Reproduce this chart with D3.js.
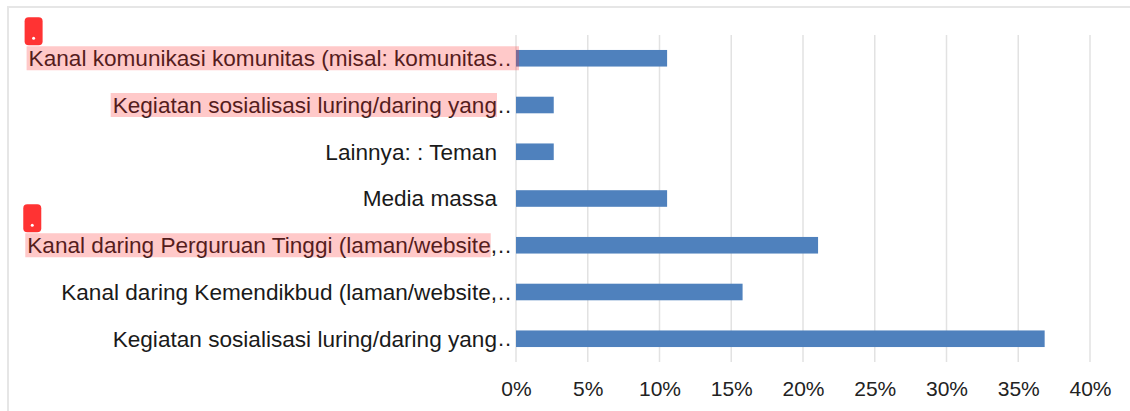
<!DOCTYPE html>
<html>
<head>
<meta charset="utf-8">
<script src="https://cdn.jsdelivr.net/npm/d3@7"></script>
<style>
  body { margin: 0; background: #fff; }
  svg { display: block; font-family: "Liberation Sans", Arial, sans-serif; }
</style>
</head>
<body>
<svg id="chart" width="1130" height="411"></svg>
<script>
// categories, top to bottom (truncated labels like the original)
const labels = [
  "Kanal komunikasi komunitas (misal: komunitas",
  "Kegiatan sosialisasi luring/daring yang",
  "Lainnya: : Teman",
  "Media massa",
  "Kanal daring Perguruan Tinggi (laman/website,",
  "Kanal daring Kemendikbud (laman/website,",
  "Kegiatan sosialisasi luring/daring yang"
];
const truncated = [true, true, false, false, true, true, true];
const values = [10.53, 2.63, 2.63, 10.53, 21.05, 15.79, 36.84];
const ticks = [0, 5, 10, 15, 20, 25, 30, 35, 40];

// highlighted label pieces: row + how many chars are covered (-1 = text and "..")
const marks = [
  { row: 0, upto: -1, pin: true },
  { row: 1, upto: 39, pin: false },
  { row: 4, upto: 44, pin: true }
];

const svg = d3.select("#chart");
const plotLeft = 516, plotRight = 1090, plotTop = 35, plotBottom = 362;

const x = d3.scaleLinear().domain([0, 40]).range([plotLeft, plotRight]);
const y = d3.scaleBand().domain(d3.range(labels.length)).range([plotTop, plotBottom]).paddingInner(0.645).paddingOuter(0.32);

// frame
svg.append("rect")
  .attr("x", 8).attr("y", 7)
  .attr("width", 1140).attr("height", 420)
  .attr("fill", "none")
  .attr("stroke", "#e6e6e6")
  .attr("stroke-width", 2);

// gridlines
svg.append("g").selectAll("line")
  .data(ticks)
  .enter()
  .append("line")
  .attr("x1", d => x(d)).attr("x2", d => x(d))
  .attr("y1", plotTop).attr("y2", plotBottom)
  .attr("stroke", "#e2e2e2")
  .attr("stroke-width", 1.5);

// bars
svg.append("g").selectAll("rect")
  .data(values)
  .enter()
  .append("rect")
  .attr("x", x(0))
  .attr("y", (d, i) => y(i))
  .attr("width", d => x(d) - x(0))
  .attr("height", y.bandwidth())
  .attr("fill", "#4f81bd");

// x axis
const xAxis = svg.append("g")
  .attr("transform", `translate(0,${plotBottom})`)
  .call(d3.axisBottom(x).tickValues(ticks).tickSize(0).tickPadding(19).tickFormat(d => d + "%"));
xAxis.select(".domain").remove();
xAxis.selectAll("text")
  .attr("font-size", 21)
  .attr("fill", "#222")
  .attr("font-family", "Liberation Sans, Arial, sans-serif");

// category labels
const labelEnd = 497;
const rows = svg.append("g").selectAll("g")
  .data(labels)
  .enter()
  .append("g")
  .attr("transform", (d, i) => `translate(0,${y(i) + y.bandwidth() / 2})`);

const labelText = rows.append("text")
  .attr("x", labelEnd)
  .attr("dy", "0.35em")
  .attr("text-anchor", "end")
  .attr("font-size", 22.6)
  .attr("fill", "#1a1a1a")
  .text(d => d);

rows.filter((d, i) => truncated[i])
  .append("text")
  .attr("x", labelEnd + 1)
  .attr("dy", "0.35em")
  .attr("font-size", 22)
  .attr("letter-spacing", 1)
  .attr("fill", "#1a1a1a")
  .text("..");

// highlight annotations over the labels
const notes = svg.append("g");
marks.forEach(m => {
  const node = labelText.nodes()[m.row];
  const full = node.getComputedTextLength();
  const start = labelEnd - full;
  const w = m.upto < 0 ? full + 22 : node.getSubStringLength(0, m.upto);
  const cy = y(m.row) + y.bandwidth() / 2;
  notes.append("rect")
    .attr("x", start - 2)
    .attr("y", cy - 12)
    .attr("width", w + 2)
    .attr("height", 24)
    .attr("fill", "rgba(255,40,40,0.25)");
  if (m.pin) {
    notes.append("rect")
      .attr("x", start - 4)
      .attr("y", cy - 41)
      .attr("width", 18)
      .attr("height", 28)
      .attr("rx", 4)
      .attr("fill", "#ff3333");
    notes.append("circle")
      .attr("cx", start + 5)
      .attr("cy", cy - 20)
      .attr("r", 1.5)
      .attr("fill", "#fff");
  }
});
</script>
</body>
</html>
